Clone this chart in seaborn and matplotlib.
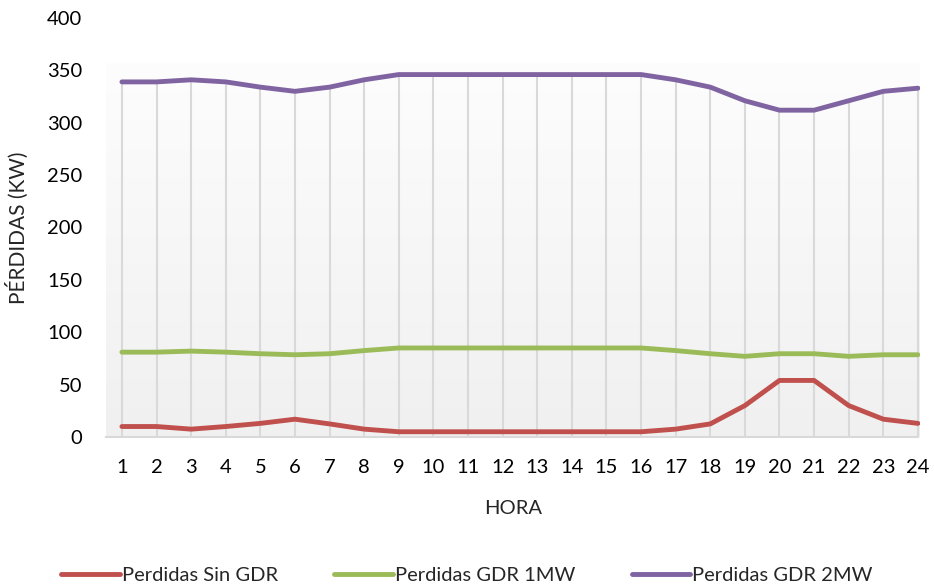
import numpy as np
import pandas as pd
import matplotlib
matplotlib.use("Agg")
import matplotlib.pyplot as plt
from matplotlib.colors import LinearSegmentedColormap
from matplotlib.lines import Line2D
import seaborn as sns

horas = list(range(1, 25))
sin_gdr = [10, 10, 7.5, 10, 13, 17, 12.5, 7.5, 5, 5, 5, 5, 5, 5, 5, 5,
           7.5, 12.5, 30, 54, 54, 30, 17, 13]
gdr_1mw = [81, 81, 82, 81, 79.5, 78.5, 79.5, 82.5, 85, 85, 85, 85, 85, 85, 85, 85,
           82.5, 79.5, 77, 79.5, 79.5, 77, 78.5, 78.5]
gdr_2mw = [339, 339, 341, 339, 334, 330, 334, 341, 346, 346, 346, 346, 346, 346, 346, 346,
           341, 334, 321, 312, 312, 321, 330, 333]
series = ["Perdidas Sin GDR", "Perdidas GDR 1MW", "Perdidas GDR 2MW"]
colores = ["#c0504d", "#9bbb59", "#8064a2"]
y_ticks = list(range(0, 401, 50))

df = pd.DataFrame({
    "HORA": horas * 3,
    "valor": sin_gdr + gdr_1mw + gdr_2mw,
    "serie": [series[0]] * 24 + [series[1]] * 24 + [series[2]] * 24,
})

sns.set_theme(style="white")
plt.rcParams["font.family"] = ["Lato", "DejaVu Sans"]

fig = plt.figure(figsize=(9.34, 5.88), dpi=100)
ax = fig.add_axes([106 / 934, 1 - 437 / 588, 814 / 934, 419 / 588])
x0, x1 = 0.54, 24.06
ax.set_xlim(x0, x1)
ax.set_ylim(0, 400)

# plot-area fill: soft vertical gradient
grad = np.linspace(1, 0, 256).reshape(-1, 1)
cmap = LinearSegmentedColormap.from_list("fondo", ["#f0f0f0", "#fdfdfd"])
ax.imshow(grad, cmap=cmap, aspect="auto", extent=[x0, x1, 0, 357],
          origin="upper", zorder=0)

# drop lines from the highest series down to the axis
ax.vlines(horas, 0, gdr_2mw, colors="#d9d9d9", linewidth=1.5, zorder=1)

sns.lineplot(data=df, x="HORA", y="valor", hue="serie", palette=colores,
             hue_order=series, linewidth=3.5, ax=ax, legend=False, zorder=3)

for s in ["top", "right", "left"]:
    ax.spines[s].set_visible(False)
ax.spines["bottom"].set_color("#d9d9d9")
ax.spines["bottom"].set_linewidth(1.5)
ax.spines["bottom"].set_bounds(x0, 24)

ax.set_xticks(horas)
ax.set_yticks(y_ticks)
ax.tick_params(axis="x", length=0, pad=16, labelsize=14.5, colors="#000000")
ax.tick_params(axis="y", length=0, pad=17, labelsize=14.5, colors="#000000")
ax.grid(False)
ax.set_xlabel("HORA", fontsize=14.5, labelpad=17)
ax.set_ylabel("PÉRDIDAS (KW)", fontsize=15, labelpad=13)

handles = [Line2D([0], [0], color=c, linewidth=3.5) for c in colores]
fig.legend(handles, series, loc="center", bbox_to_anchor=(0.5, 1 - 575 / 588),
           ncol=3, frameon=False, fontsize=14.5, handlelength=2.9,
           handletextpad=0.1, columnspacing=2.8)

fig.savefig("out.png", dpi=100, facecolor="white")
